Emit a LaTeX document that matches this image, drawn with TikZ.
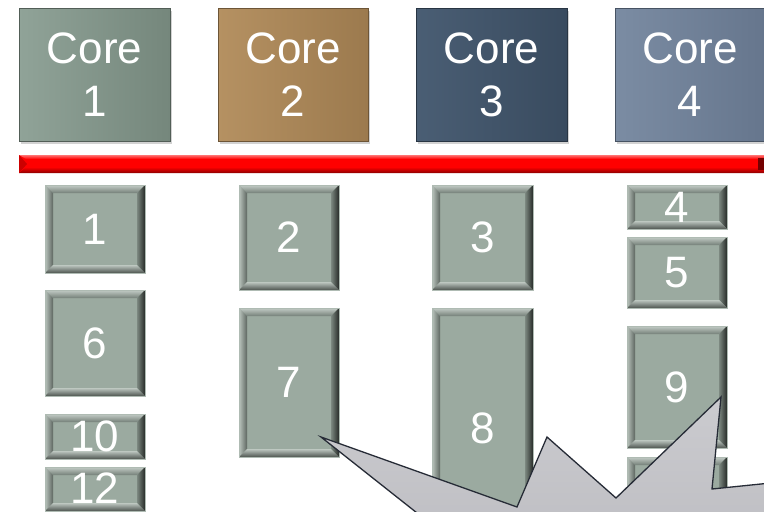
\documentclass[tikz,border=0pt]{standalone}
\usepackage{fontspec}
\setmainfont{Liberation Sans}
\usetikzlibrary{shadows}
\definecolor{panel}{HTML}{9BAAA0}
\definecolor{cA1}{HTML}{90A398}\definecolor{cA2}{HTML}{75877C}
\definecolor{cB1}{HTML}{B59162}\definecolor{cB2}{HTML}{9C7A4E}
\definecolor{cC1}{HTML}{4A5E74}\definecolor{cC2}{HTML}{394B5F}
\definecolor{cD1}{HTML}{7B8CA3}\definecolor{cD2}{HTML}{66768D}
\definecolor{callA}{HTML}{CBCBCF}
\definecolor{callB}{HTML}{B9B9BE}
\definecolor{callline}{HTML}{262B36}
\tikzset{
  corebox/.style={inner sep=0pt, align=center, text=white, font=\fontsize{44}{53}\selectfont,
    line width=0.6pt, drop shadow={shadow xshift=2pt, shadow yshift=-3pt, opacity=.35}},
  numtxt/.style={inner sep=0pt, text=white, font=\fontsize{44}{53}\selectfont},
  bvtop/.style={top color=black!0!panel!60!white, bottom color=panel!75!black},
  bvleft/.style={left color=panel!70!white, right color=panel!60!black},
  bvright/.style={left color=panel!80!black, right color=panel!25!black},
  bvbot/.style={top color=panel!65!white, bottom color=panel!50!black},
}
% bevelled memory block: name, x1, y1, x2, y2, label
\newcommand\memblk[6]{%
  \fill[panel] (#2,#3) rectangle (#4,#5);
  \shade[bvtop] (#2,#3) -- (#4,#3) -- ({#4-8},{#3+8}) -- ({#2+8},{#3+8}) -- cycle;
  \shade[bvleft] (#2,#3) -- ({#2+8},{#3+8}) -- ({#2+8},{#5-8}) -- (#2,#5) -- cycle;
  \shade[bvright] (#4,#3) -- ({#4-8},{#3+8}) -- ({#4-8},{#5-8}) -- (#4,#5) -- cycle;
  \shade[bvbot] (#2,#5) -- ({#2+8},{#5-8}) -- ({#4-8},{#5-8}) -- (#4,#5) -- cycle;
  \draw[panel!80!white, line width=0.8pt] (#2,#3) rectangle (#4,#5);
  \node[numtxt] (#1) at ({(#2+#4)/2},{(#3+#5)/2}) {#6};
}
\begin{document}
\begin{tikzpicture}[x=1pt,y=-1pt]
\useasboundingbox (0,0) rectangle (764,512);
\clip (0,0) rectangle (764,512);
\fill[white] (0,0) rectangle (764,512);
% cores
\node[corebox, minimum width=151pt, minimum height=133pt, left color=cA1, right color=cA2, draw=cA2!70!black] (core1) at (94.5,74.5) {Core\\1};
\node[corebox, minimum width=150pt, minimum height=133pt, left color=cB1, right color=cB2, draw=cB2!70!black] (core2) at (293,74.5) {Core\\2};
\node[corebox, minimum width=151pt, minimum height=133pt, left color=cC1, right color=cC2, draw=cC2!70!black] (core3) at (491.5,74.5) {Core\\3};
\node[corebox, minimum width=150pt, minimum height=133pt, left color=cD1, right color=cD2, draw=cD2!70!black] (core4) at (690,74.5) {Core\\4};
% red bus
\fill[red] (19,155) rectangle (770,173);
\shade[top color=red!55!white, bottom color=red] (19,155) -- (770,155) -- (770,159) -- (26,159) -- cycle;
\shade[top color=red, bottom color=red!55!black] (19,173) -- (770,173) -- (770,167) -- (26,167) -- cycle;
\fill[red!80!black] (19,155) -- (27,164) -- (19,173) -- cycle;
\fill[red!45!black] (758,158) rectangle (764,170);
% column 1
\memblk{m1}{45}{185}{145}{273}{1}
\memblk{m6}{45}{290}{145}{396}{6}
\memblk{m10}{45}{414}{145}{459}{10}
\memblk{m12}{45}{467}{145}{511}{}
\node[numtxt] (m12t) at (95,488) {12};
% column 2
\memblk{m2}{239}{185}{339}{290}{2}
\memblk{m7}{239}{308}{339}{457}{7}
% column 3
\memblk{m3}{432}{185}{533}{290}{3}
\memblk{m8}{432}{308}{533}{548}{8}
% column 4
\memblk{m4}{627}{185}{727}{229}{4}
\memblk{m5}{627}{237}{727}{308}{5}
\memblk{m9}{627}{326}{727}{448}{9}
\memblk{m11}{627}{457}{727}{600}{}
% callout
\coordinate (tip) at (321,437);
\draw[top color=callA, bottom color=callB, draw=callline, line width=1.3pt, line join=miter]
  (tip) -- (517,507) -- (547,437) -- (616,498) -- (721,397) -- (712,489)
  -- (800,480) -- (800,600) -- (527,600) -- cycle;
\end{tikzpicture}
\end{document}
